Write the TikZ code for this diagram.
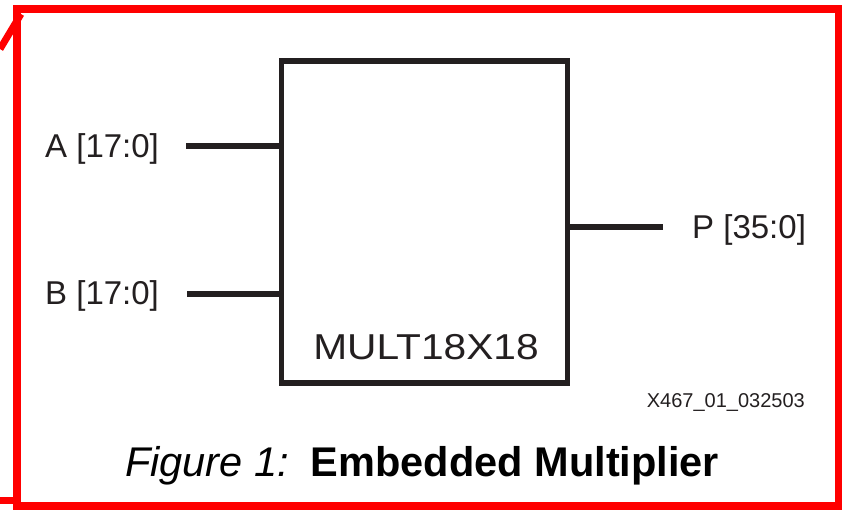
\documentclass[tikz,border=0pt]{standalone}
\usepackage{fontspec}
\setmainfont{Liberation Sans}
\definecolor{inkdark}{HTML}{231F20}
\definecolor{framered}{HTML}{FF0000}
\tikzset{
  frameline/.style={draw=framered, line width=8pt},
  wire/.style={draw=inkdark, line width=5.5pt},
  blockbox/.style={draw=inkdark, line width=5.5pt, minimum width=286pt, minimum height=322pt, inner sep=0pt},
  portlabel/.style={anchor=base west, inner sep=0pt, text=inkdark, font=\fontsize{33}{40}\selectfont},
}
\begin{document}
\begin{tikzpicture}[x=1pt, y=-1pt]
\useasboundingbox (0,0) rectangle (842,509);
% red frame
\draw[frameline] (17,9) rectangle (839,506);
\coordinate (d1) at (0,49);
\coordinate (d2) at (21,14);
\draw[draw=framered, line width=7pt] (d1) -- (d2);
\coordinate (s1) at (0,500);
\coordinate (s2) at (14,500);
\draw[draw=framered, line width=7pt] (s1) -- (s2);
% block
\node[blockbox] (mult) at (424.5,222) {};
\node[anchor=base, inner sep=0pt, text=inkdark, font=\fontsize{36}{43}\selectfont] (multname) at (426,359) {\scalebox{1.13}[1]{MULT18X18}};
% labels
\node[portlabel] (alab) at (45,157) {A [17:0]};
\node[portlabel] (blab) at (45,304) {B [17:0]};
\node[portlabel] (plab) at (692,238) {P [35:0]};
% wires
\coordinate (ain) at (186,146);
\coordinate (bin) at (187,294);
\coordinate (pout) at (663,227);
\draw[wire] (ain) -- (ain -| mult.west);
\draw[wire] (bin) -- (bin -| mult.west);
\draw[wire] (pout -| mult.east) -- (pout);
% figure id
\node[anchor=base east, inner sep=0pt, text=inkdark, font=\fontsize{20}{24}\selectfont] (figid) at (805,407) {X467\_01\_032503};
% caption
\node[anchor=base west, inner sep=0pt, text=black, font=\fontsize{41.5}{50}\selectfont] (caption) at (125,476) {{\itshape Figure 1:}\hspace{22pt}{\bfseries Embedded Multiplier}};
\end{tikzpicture}
\end{document}
